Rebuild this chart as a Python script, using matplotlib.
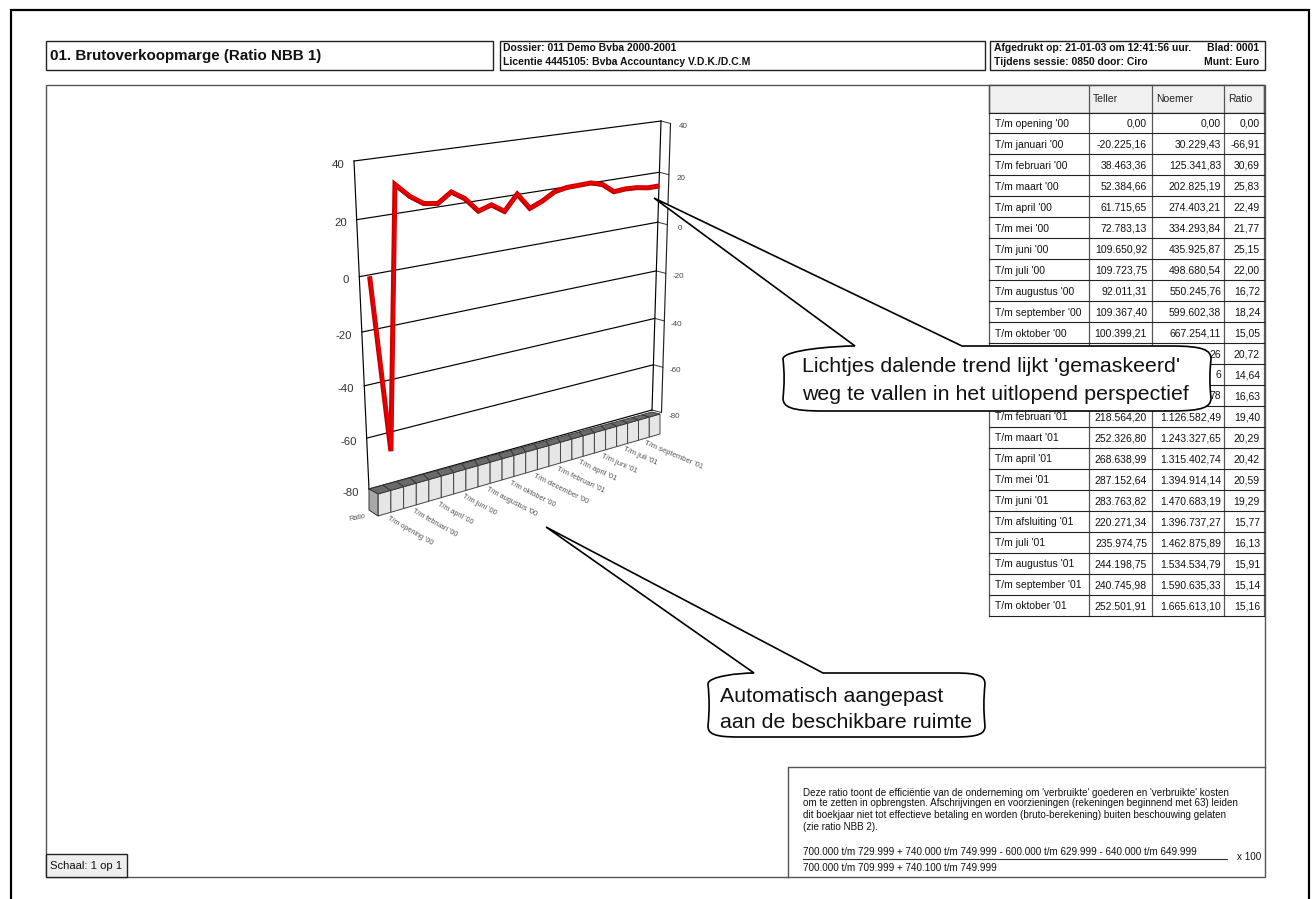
import numpy as np
import matplotlib
matplotlib.use("Agg")
import matplotlib.pyplot as plt
from matplotlib.patches import Rectangle, Polygon, PathPatch
from matplotlib.path import Path

plt.rcParams['font.family'] = ['Liberation Sans', 'DejaVu Sans']

labels = ["T/m opening '00", "T/m januari '00", "T/m februari '00", "T/m maart '00", "T/m april '00",
          "T/m mei '00", "T/m juni '00", "T/m juli '00", "T/m augustus '00", "T/m september '00",
          "T/m oktober '00", "T/m november '00", "T/m december '00", "T/m januari '01",
          "T/m februari '01", "T/m maart '01", "T/m april '01", "T/m mei '01", "T/m juni '01",
          "T/m afsluiting '01", "T/m juli '01", "T/m augustus '01", "T/m september '01", "T/m oktober '01"]
teller = ["0,00", "-20.225,16", "38.463,36", "52.384,66", "61.715,65", "72.783,13", "109.650,92",
          "109.723,75", "92.011,31", "109.367,40", "100.399,21", "", "", "", "218.564,20", "252.326,80",
          "268.638,99", "287.152,64", "283.763,82", "220.271,34", "235.974,75", "244.198,75",
          "240.745,98", "252.501,91"]
noemer = ["0,00", "30.229,43", "125.341,83", "202.825,19", "274.403,21", "334.293,84", "435.925,87",
          "498.680,54", "550.245,76", "599.602,38", "667.254,11", "26", "6", "78", "1.126.582,49",
          "1.243.327,65", "1.315.402,74", "1.394.914,14", "1.470.683,19", "1.396.737,27",
          "1.462.875,89", "1.534.534,79", "1.590.635,33", "1.665.613,10"]
ratio = [0.00, -66.91, 30.69, 25.83, 22.49, 21.77, 25.15, 22.00, 16.72, 18.24, 15.05, 20.72, 14.64,
         16.63, 19.40, 20.29, 20.42, 20.59, 19.29, 15.77, 16.13, 15.91, 15.14, 15.16]
y_ticks = [40, 20, 0, -20, -40, -60, -80]
desc = ["Deze ratio toont de efficiëntie van de onderneming om 'verbruikte' goederen en 'verbruikte' kosten",
        "om te zetten in opbrengsten. Afschrijvingen en voorzieningen (rekeningen beginnend met 63) leiden",
        "dit boekjaar niet tot effectieve betaling en worden (bruto-berekening) buiten beschouwing gelaten",
        "(zie ratio NBB 2)."]

fig = plt.figure(figsize=(13.13, 8.99), dpi=100)
ax = fig.add_axes([0, 0, 1, 1])
ax.set_xlim(0, 1313)
ax.set_ylim(899, 0)
ax.axis('off')


def homography(src, dst):
    A, b = [], []
    for (x, y), (u, v) in zip(src, dst):
        A.append([x, y, 1, 0, 0, 0, -u * x, -u * y]); b.append(u)
        A.append([0, 0, 0, x, y, 1, -v * x, -v * y]); b.append(v)
    h = np.linalg.solve(np.array(A, float), np.array(b, float))
    H = np.append(h, 1).reshape(3, 3)

    def f(x, y):
        x, y = np.asarray(x, float), np.asarray(y, float)
        w = H[2, 0] * x + H[2, 1] * y + H[2, 2]
        return (H[0, 0] * x + H[0, 1] * y + H[0, 2]) / w, (H[1, 0] * x + H[1, 1] * y + H[1, 2]) / w
    return f


wall = homography([(0, 40), (0, -80), (1, 40), (1, -80)], [(354, 161), (369, 489), (661, 121), (652, 410)])
front = homography([(0, 1), (0, 0), (24, 1), (24, 0)], [(378, 494), (378, 516), (660, 414), (660, 434)])
back = homography([(0, 1), (24, 1), (0, 2), (24, 2)], [(369, 489), (652, 412), (369.0, 470), (652, 396)])
DEPTH = (9.5, 2.5)


def box(x0, y0, x1, y1, ec='#333333', fc='none', lw=1.0, z=2):
    ax.add_patch(Rectangle((x0, y0), x1 - x0, y1 - y0, ec=ec, fc=fc, lw=lw, zorder=z))


# page frame
ax.plot([10.5, 10.5, 1308.5, 1308.5], [899, 9.5, 9.5, 899], color='black', lw=1.6, zorder=1, solid_joinstyle='miter')
box(46, 85, 1265, 877, ec='#555555', lw=1.0, z=1)

# header
box(46, 41, 493, 70, ec='#222222')
box(500, 41, 985, 70, ec='#222222')
box(990, 41, 1265, 70, ec='#222222')
HB = dict(fontsize=7.5, fontweight='bold', va='center', color='#111111')
ax.text(49.5, 56, "01. Brutoverkoopmarge (Ratio NBB 1)", fontsize=10.9, fontweight='bold', va='center', color='#111111')
ax.text(503, 48, "Dossier: 011 Demo Bvba 2000-2001", **HB)
ax.text(503, 62, "Licentie 4445105: Bvba Accountancy V.D.K./D.C.M", **HB)
ax.text(994, 48, "Afgedrukt op: 21-01-03 om 12:41:56 uur.", **HB)
ax.text(1259, 48, "Blad: 0001", ha='right', **HB)
ax.text(994, 62, "Tijdens sessie: 0850 door: Ciro", **HB)
ax.text(1259, 62, "Munt: Euro", ha='right', **HB)

# walls and gridlines
for t in y_ticks:
    x0, y0 = wall(0, t)
    x1, y1 = wall(1, t)
    ax.plot([x0, x1], [y0, y1], color='black', lw=0.85, zorder=3)
    ax.plot([x1, x1 + DEPTH[0]], [y1, y1 + DEPTH[1]], color='#333333', lw=0.7, zorder=3)
    ax.text(x0 - 10, y0 + 3.5, str(t), ha='right', va='center', fontsize=8.2, color='#333333', zorder=3)
    ax.text(x1 + 22, y1 + 6, str(t), ha='center', va='center', fontsize=5.8, color='#444444', zorder=3)
for u in (0, 1):
    xs, ys = wall([u, u], [40, -80])
    ax.plot(xs, ys, color='black', lw=0.85, zorder=3)
xs, ys = wall([1, 1], [40, -80])
ax.plot(xs + DEPTH[0], ys + DEPTH[1], color='#222222', lw=0.85, zorder=3)

# category base (front faces and top faces)
for i in range(len(ratio)):
    (xa, xb), (yt0, yt1) = front([i, i + 1], [1, 1])
    _, (yb0, yb1) = front([i, i + 1], [0, 0])
    ax.add_patch(Polygon([(xa, yt0), (xb, yt1), (xb, yb1), (xa, yb0)], fc='#e6e6e6', ec='#444444', lw=0.7, zorder=4))
    (bxa, bxb), (byt0, byt1) = back([i, i + 1], [1, 1])
    ax.add_patch(Polygon([(bxa, byt0), (bxb, byt1), (xb, yt1), (xa, yt0)], fc='#6a6a6a', ec='#333333', lw=0.6, zorder=4))
(x0f, _), (y0t, _) = front([0, 24], [1, 1])
_, (y0b, _) = front([0, 24], [0, 0])
ax.add_patch(Polygon([(369, 489), (x0f, y0t), (x0f, y0b), (369, 510)], fc='#a8a8a8', ec='#333333', lw=0.7, zorder=4))

# category labels: rotation and size follow the perspective of the base
for i in range(0, len(labels), 2):
    xa, ya = front(i + 0.5, 0)
    frac = i / 22
    ax.text(xa + 5 * (1 - frac) + 2 * frac, ya + 1, labels[i], rotation=-30 + 7 * frac, rotation_mode='anchor',
            ha='left', va='top', fontsize=5.2 + 0.3 * frac, color='#555555', zorder=4)
ax.text(357, 518, "Ratio", rotation=12, ha='center', va='center', fontsize=5.2, color='#555555', zorder=4)

# ratio line (ribbon)
pos = np.arange(len(ratio), dtype=float)
t_line = 0.03 + pos * 0.97 / 23
lx, ly = wall(t_line, np.array(ratio))
ly = ly + 1.5
ax.plot(lx[2:] - 1.0, ly[2:] + 1.5, color='#222222', lw=0.9, zorder=5, solid_joinstyle='miter')
ax.plot(lx, ly, color='#c80000', lw=3.6, zorder=6, solid_joinstyle='miter', solid_capstyle='butt')
ax.plot(lx + 0.6, ly - 0.4, color='#ee0000', lw=1.6, zorder=7, solid_joinstyle='miter', solid_capstyle='butt')

# table
col_x = [989, 1089, 1152, 1224, 1264]
header_top, row_top, row_h = 85, 112.5, 20.96
n = len(labels)
box(col_x[0], header_top, col_x[-1], row_top, ec='#444444', fc='#f0f0f0', z=8)
ax.add_patch(Rectangle((col_x[0], row_top), col_x[-1] - col_x[0], n * row_h, fc='white', ec='none', zorder=8))
for c in col_x:
    ax.plot([c, c], [header_top, row_top + n * row_h], color='#555555', lw=0.9, zorder=9)
for r in range(n + 1):
    yy = row_top + r * row_h
    ax.plot([col_x[0], col_x[-1]], [yy, yy], color='#222222', lw=0.8, zorder=9)
fs = 7.5
ax.text(1093, 99, "Teller", fontsize=fs, va='center', color='#222222', zorder=10)
ax.text(1156, 99, "Noemer", fontsize=fs, va='center', color='#222222', zorder=10)
ax.text(1228, 99, "Ratio", fontsize=fs, va='center', color='#222222', zorder=10)
for r in range(n):
    yy = row_top + (r + 0.5) * row_h + 1
    ax.text(995, yy, labels[r], fontsize=fs, va='center', color='#111111', zorder=10)
    ax.text(1147, yy, teller[r], fontsize=fs, va='center', ha='right', color='#111111', zorder=10)
    ax.text(1221, yy, noemer[r], fontsize=fs, va='center', ha='right', color='#111111', zorder=10)
    ax.text(1260, yy, f"{ratio[r]:.2f}".replace('.', ','), fontsize=fs, va='center', ha='right', color='#111111', zorder=10)


# callouts
def callout(x0, y0, x1, y1, tip, b0, b1, rx, ry):
    verts = [(x0, y0 + ry), (x0, y0 + ry * 0.3), (b0 - rx * 0.5, y0), (b0, y0), tip, (b1, y0),
             (x1 - rx, y0), (x1 - rx * 0.2, y0), (x1, y0 + ry * 0.3), (x1, y0 + ry),
             (x1 - 1.5, (y0 + y1) / 2 - 5), (x1 - 1.5, (y0 + y1) / 2 + 5), (x1, y1 - ry),
             (x1, y1 - ry * 0.3), (x1 - rx * 0.2, y1), (x1 - rx, y1),
             (x0 + rx, y1), (x0 + rx * 0.2, y1), (x0, y1 - ry * 0.3), (x0, y1 - ry),
             (x0 + 1.5, (y0 + y1) / 2 + 5), (x0 + 1.5, (y0 + y1) / 2 - 5), (x0, y0 + ry), (x0, y0 + ry)]
    codes = [Path.MOVETO, Path.CURVE4, Path.CURVE4, Path.CURVE4, Path.LINETO, Path.LINETO,
             Path.LINETO, Path.CURVE4, Path.CURVE4, Path.CURVE4,
             Path.CURVE4, Path.CURVE4, Path.CURVE4,
             Path.CURVE4, Path.CURVE4, Path.CURVE4, Path.LINETO,
             Path.CURVE4, Path.CURVE4, Path.CURVE4,
             Path.CURVE4, Path.CURVE4, Path.CURVE4, Path.CLOSEPOLY]
    ax.add_patch(PathPatch(Path(verts, codes), fc='white', ec='black', lw=1.2, zorder=12, joinstyle='miter'))


callout(783, 346, 1211, 411, (654, 198), 855, 962, 40, 13)
callout(708, 673, 985, 737, (546, 527), 754, 823, 30, 11)
CT = dict(fontsize=15.4, va='center', color='#111111', zorder=13)
ax.text(802, 367, "Lichtjes dalende trend lijkt 'gemaskeerd'", **CT)
ax.text(802, 395, "weg te vallen in het uitlopend perspectief", **CT)
ax.text(720, 697, "Automatisch aangepast", **CT)
ax.text(720, 722, "aan de beschikbare ruimte", **CT)

# explanation box
ax.plot([788, 788, 1265], [877, 767, 767], color='#555555', lw=1.0, zorder=2)
for yy, s in zip([793, 803.5, 815, 827], desc):
    ax.text(803, yy, s, fontsize=7.1, va='center', color='#111111', zorder=3)
ax.text(803, 852, "700.000 t/m 729.999 + 740.000 t/m 749.999 - 600.000 t/m 629.999 - 640.000 t/m 649.999",
        fontsize=7.1, va='center', color='#111111')
ax.plot([803, 1227], [859, 859], color='#333333', lw=0.8)
ax.text(803, 868, "700.000 t/m 709.999 + 740.100 t/m 749.999", fontsize=7.1, va='center', color='#111111')
ax.text(1237, 857.5, "x 100", fontsize=7.1, va='center', color='#111111')

# scale box
box(46, 854, 127, 877, ec='#222222', fc='#eeeeee', z=3)
ax.text(50, 866, "Schaal: 1 op 1", fontsize=8.1, va='center', color='#111111', zorder=4)

fig.savefig('out.png', dpi=100, facecolor='white')
